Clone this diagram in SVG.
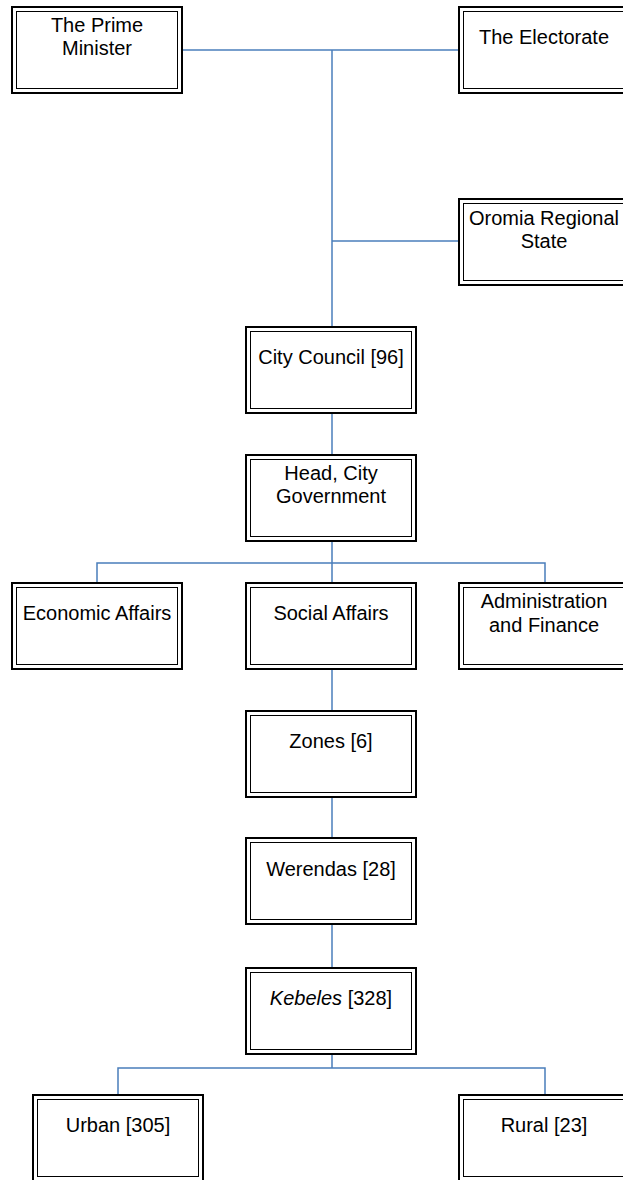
<svg xmlns="http://www.w3.org/2000/svg" width="623" height="1180" viewBox="0 0 623 1180">
  <defs>
    <style>
      .outer { fill: #ffffff; stroke: #000000; stroke-width: 2; }
      .inner { fill: none; stroke: #000000; stroke-width: 1; }
      .label { font-family: "Liberation Sans", Arial, sans-serif; font-size: 20px; fill: #000000; text-anchor: middle; }
      .link { fill: none; stroke: #4A7EBB; stroke-width: 1.5; }
    </style>
    <!-- double-ruled box, 170 x 86 -->
    <g id="box">
      <rect class="outer" x="0" y="0" width="170" height="86"/>
      <rect class="inner" x="4.5" y="4.5" width="161" height="77"/>
    </g>
  </defs>
  <rect width="623" height="1180" fill="#ffffff"/>

  <!-- connectors -->
  <g id="connectors">
    <path class="link" d="M182 50 H459"/>
    <path class="link" d="M332 50 V327"/>
    <path class="link" d="M332 241 H459"/>
    <path class="link" d="M332 412 V455"/>
    <path class="link" d="M332 540 V563 M97 583 V563 H545 V583 M332 563 V583"/>
    <path class="link" d="M332 669 V711"/>
    <path class="link" d="M332 797 V838"/>
    <path class="link" d="M332 924 V968"/>
    <path class="link" d="M332 1053 V1068 M118 1095 V1068 H545 V1095"/>
  </g>

  <!-- nodes -->
  <g id="prime-minister" transform="translate(12 7)">
    <use href="#box"/>
    <text class="label" x="85" y="25">The Prime</text>
    <text class="label" x="85" y="48">Minister</text>
  </g>
  <g id="electorate" transform="translate(459 7)">
    <use href="#box"/>
    <text class="label" x="85" y="37">The Electorate</text>
  </g>
  <g id="oromia" transform="translate(459 199)">
    <use href="#box"/>
    <text class="label" x="85" y="26">Oromia Regional</text>
    <text class="label" x="85" y="49">State</text>
  </g>
  <g id="city-council" transform="translate(246 327)">
    <use href="#box"/>
    <text class="label" x="85" y="37">City Council [96]</text>
  </g>
  <g id="head-city-government" transform="translate(246 455)">
    <use href="#box"/>
    <text class="label" x="85" y="25">Head, City</text>
    <text class="label" x="85" y="48">Government</text>
  </g>
  <g id="economic-affairs" transform="translate(12 583)">
    <use href="#box"/>
    <text class="label" x="85" y="37">Economic Affairs</text>
  </g>
  <g id="social-affairs" transform="translate(246 583)">
    <use href="#box"/>
    <text class="label" x="85" y="37">Social Affairs</text>
  </g>
  <g id="administration-finance" transform="translate(459 583)">
    <use href="#box"/>
    <text class="label" x="85" y="25">Administration</text>
    <text class="label" x="85" y="49">and Finance</text>
  </g>
  <g id="zones" transform="translate(246 711)">
    <use href="#box"/>
    <text class="label" x="85" y="37">Zones [6]</text>
  </g>
  <g id="werendas" transform="translate(246 838)">
    <use href="#box"/>
    <text class="label" x="85" y="38">Werendas [28]</text>
  </g>
  <g id="kebeles" transform="translate(246 968)">
    <use href="#box"/>
    <text class="label" x="85" y="37"><tspan font-style="italic">Kebeles</tspan> [328]</text>
  </g>
  <g id="urban" transform="translate(33 1095)">
    <use href="#box"/>
    <text class="label" x="85" y="37">Urban [305]</text>
  </g>
  <g id="rural" transform="translate(459 1095)">
    <use href="#box"/>
    <text class="label" x="85" y="37">Rural [23]</text>
  </g>
</svg>
